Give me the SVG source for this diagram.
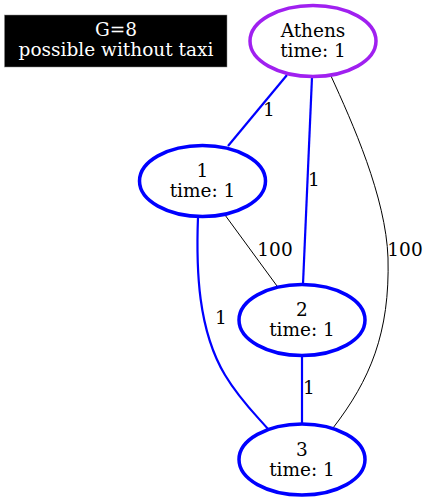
<svg xmlns="http://www.w3.org/2000/svg" width="429" height="501" viewBox="0 0 429 501">
<style>
text{font-family:"DejaVu Serif","Liberation Serif",serif;font-size:18.5px;text-anchor:middle;fill:#000}
.nd{fill:#fff;stroke:#0000ff;stroke-width:3.5}
.blue{fill:none;stroke:#0000ff;stroke-width:2.2}
.black{fill:none;stroke:#000;stroke-width:1}
</style>
<rect width="429" height="501" fill="#fff"/>
<g id="legend">
<rect x="4.5" y="15" width="222.5" height="52" fill="#000" stroke="#888" stroke-width="0.5"/>
<text x="116" y="35.5" style="fill:#fff">G=8</text>
<text x="116" y="55.5" style="fill:#fff">possible without taxi</text>
</g>
<g id="edges">
<path class="blue" d="M287,75 L228,146"/>
<text x="269" y="116">1</text>
<path class="blue" d="M312,77 L303,284"/>
<text x="314" y="186">1</text>
<path class="black" d="M331,76 C352,122 386,197 388,258 C390,333 370,380 333,428"/>
<text x="405" y="256">100</text>
<path class="black" d="M225,215 L277,286"/>
<text x="275" y="256">100</text>
<path class="blue" d="M198,217 C196,270 198,330 225,375 C240,400 255,414 268,429"/>
<text x="221" y="324">1</text>
<path class="blue" d="M302,356 L302,424"/>
<text x="309" y="394">1</text>
</g>
<g id="athens">
<ellipse cx="313" cy="41" rx="63" ry="35.5" fill="#fff" stroke="#a020f0" stroke-width="3.5"/>
<text x="313" y="36.5">Athens</text>
<text x="313" y="56.5">time: 1</text>
</g>
<g id="n1">
<ellipse class="nd" cx="202.5" cy="181" rx="63" ry="35.5"/>
<text x="202.5" y="176.5">1</text>
<text x="202.5" y="196.5">time: 1</text>
</g>
<g id="n2">
<ellipse class="nd" cx="302" cy="320" rx="63" ry="35.5"/>
<text x="302" y="315.5">2</text>
<text x="302" y="335.5">time: 1</text>
</g>
<g id="n3">
<ellipse class="nd" cx="302" cy="459.5" rx="63" ry="35.5"/>
<text x="302" y="455.5">3</text>
<text x="302" y="475.5">time: 1</text>
</g>
</svg>
